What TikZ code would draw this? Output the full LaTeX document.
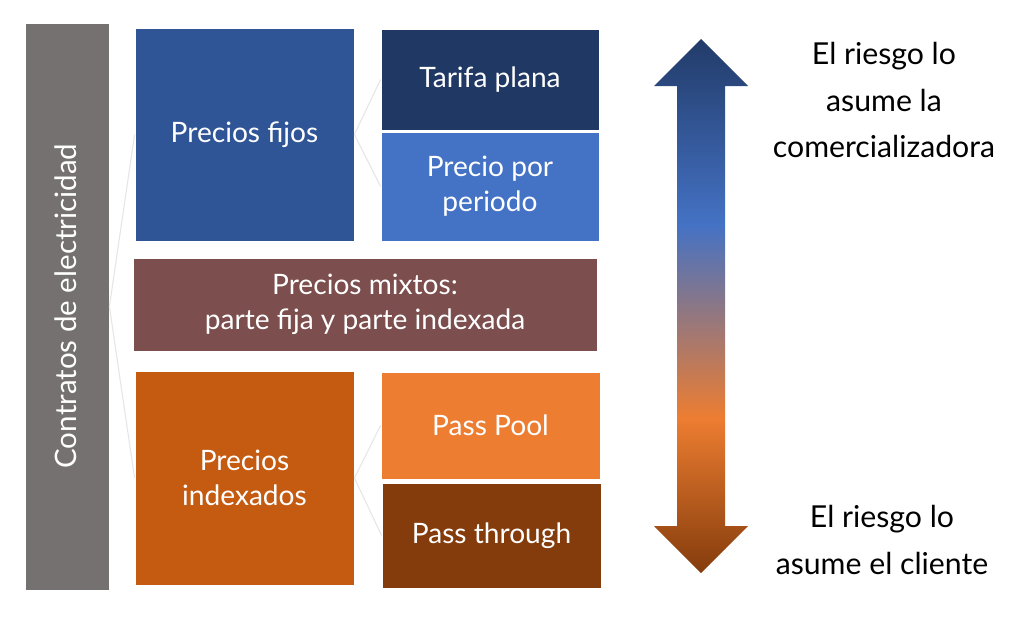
\documentclass[tikz,border=0pt]{standalone}
\usepackage{fontspec}
\setmainfont{Lato}
\usetikzlibrary{positioning}

\definecolor{grisbar}{HTML}{767171}
\definecolor{azulfijo}{HTML}{2F5597}
\definecolor{azuloscuro}{HTML}{203864}
\definecolor{azulclaro}{HTML}{4472C4}
\definecolor{granate}{HTML}{7D4E4E}
\definecolor{naranjaosc}{HTML}{C55A11}
\definecolor{naranja}{HTML}{ED7D31}
\definecolor{marron}{HTML}{843C0C}
\definecolor{lineagris}{HTML}{E6E6E6}

\pgfdeclareverticalshading{riesgo}{100bp}{color(0bp)=(marron); color(25bp)=(marron); color(39.5bp)=(naranja); color(57.6bp)=(azulclaro); color(75bp)=(azuloscuro!95!azulclaro); color(100bp)=(azuloscuro)}

\begin{document}
\begin{tikzpicture}

\tikzset{caja/.style = {shape=rectangle, draw=white, line width=0.6pt, text=white, align=center, font=\fontsize{20}{25}\selectfont, inner sep=0pt}}
\tikzset{enlace/.style = {draw=lineagris, line width=0.8pt}}
\tikzset{riesgotxt/.style = {align=center, font=\fontsize{21.5}{33}\selectfont}}

\useasboundingbox (0,0) rectangle (25.6,-15.4);

%cajas
\node[caja, fill=grisbar, minimum width=2.1cm, minimum height=14.175cm] (contratos) at (1.675,-7.6625) {};
\node[rotate=90, text=white, font=\fontsize{21}{25}\selectfont, inner sep=0pt] (titulo) at (1.65,-7.65) {Contratos de electricidad};
\node[caja, fill=azulfijo, minimum width=5.475cm, minimum height=5.325cm] (fijos) at (6.1125,-3.3625) {Precios fijos};
\node[caja, fill=azuloscuro, minimum width=5.45cm, minimum height=2.525cm] (plana) at (12.25,-1.9875) {Tarifa plana};
\node[caja, fill=azulclaro, minimum width=5.45cm, minimum height=2.725cm] (periodo) at (12.25,-4.6625) {Precio por\\periodo};
\node[caja, fill=granate, minimum width=11.6cm, minimum height=2.325cm] (mixtos) at (9.125,-7.6125) {Precios mixtos:\\parte fija y parte indexada};
\node[caja, fill=naranjaosc, minimum width=5.475cm, minimum height=5.35cm] (indexados) at (6.1125,-11.95) {Precios\\indexados};
\node[caja, fill=naranja, minimum width=5.475cm, minimum height=2.675cm] (pool) at (12.2625,-10.6375) {Pass Pool};
\node[caja, fill=marron, minimum width=5.475cm, minimum height=2.625cm] (through) at (12.2875,-13.3875) {Pass through};

%enlaces
\draw[enlace] (contratos.east) -- (fijos.west);
\draw[enlace] (contratos.east) -- (indexados.west);
\draw[enlace] (fijos.east) -- (plana.west);
\draw[enlace] (fijos.east) -- (periodo.west);
\draw[enlace] (indexados.east) -- (pool.west);
\draw[enlace] (indexados.east) -- (through.west);

%flecha
\shade[shading=riesgo] (17.525,-0.975) -- (18.7,-2.15) -- (18.125,-2.15) -- (18.125,-13.15) -- (18.7,-13.15)
  -- (17.525,-14.325) -- (16.35,-13.15) -- (16.925,-13.15) -- (16.925,-2.15) -- (16.35,-2.15) -- cycle;

%textos
\node[riesgotxt] (comer) at (22.1,-2.5) {El riesgo lo\\asume la\\comercializadora};
\node[riesgotxt] (cliente) at (22.05,-13.5) {El riesgo lo\\asume el cliente};

\end{tikzpicture}
\end{document}
